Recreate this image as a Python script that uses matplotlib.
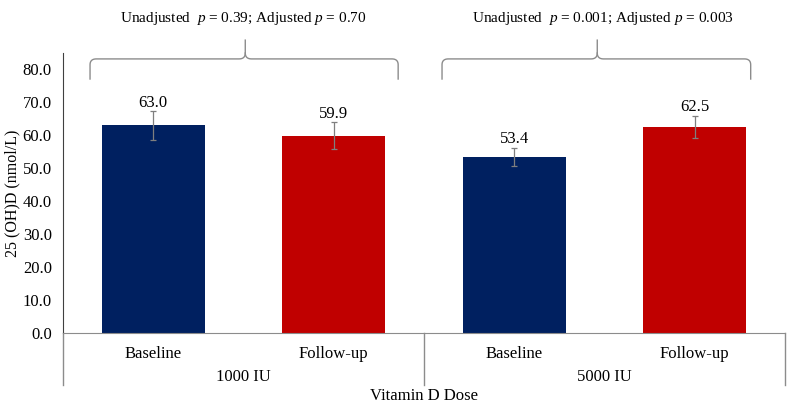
import numpy as np
import matplotlib.pyplot as plt
import matplotlib.transforms as mtransforms

plt.rcParams['font.family'] = ['Liberation Serif', 'DejaVu Serif']
plt.rcParams['mathtext.fontset'] = 'custom'
plt.rcParams['mathtext.rm'] = 'Liberation Serif'
plt.rcParams['mathtext.it'] = 'Liberation Serif:italic'

visits = ['Baseline', 'Follow-up', 'Baseline', 'Follow-up']
doses = ['1000 IU', '5000 IU']
means = [63.0, 59.9, 53.4, 62.5]
errs = [4.3, 4.0, 2.8, 3.4]
colors = ['#002060', '#C00000', '#002060', '#C00000']
pvals = ['Unadjusted  $p$ = 0.39; Adjusted $p$ = 0.70',
         'Unadjusted  $p$ = 0.001; Adjusted $p$ = 0.003']

fig = plt.figure(figsize=(7.91, 4.13), dpi=100)
ax = fig.add_axes([0.0796, 0.1937, 0.9128, 0.678])

x = np.arange(len(means))
ax.bar(x, means, width=0.57, color=colors, zorder=2)
ax.errorbar(x, means, yerr=errs, fmt='none', ecolor='#7f7f7f', elinewidth=0.9,
            capsize=2, capthick=0.9, zorder=3)
for xi, m, e in zip(x, means, errs):
    ax.text(xi, m + e + 0.2, f'{m:.1f}', ha='center', va='bottom', fontsize=12)

ax.set_xlim(-0.5, 3.5)
ax.set_ylim(0, 85)
ax.set_yticks(np.arange(0, 81, 10))
ax.set_yticklabels([f'{v:.1f}' for v in np.arange(0, 81, 10)], fontsize=12)
ax.tick_params(axis='y', length=0, pad=8)
ax.set_xticks(x)
ax.set_xticklabels(visits, fontsize=12)
ax.tick_params(axis='x', length=0, pad=9)
ax.set_ylabel('25 (OH)D (nmol/L)', fontsize=11.5, labelpad=2)

for s in ['top', 'right']:
    ax.spines[s].set_visible(False)
ax.spines['left'].set_color('#404040')
ax.spines['bottom'].set_color('#8c8c8c')

trans = mtransforms.blended_transform_factory(ax.transData, ax.transAxes)
for sx in [-0.5, 1.5, 3.5]:
    ax.plot([sx, sx], [0, -0.186], transform=trans, color='#8c8c8c', lw=1.0, clip_on=False)
for gi, d in enumerate(doses):
    ax.text(2 * gi + 0.5, -0.157, d, transform=trans, ha='center', va='center', fontsize=12)
ax.text(1.5, -0.225, 'Vitamin D Dose', transform=trans, ha='center', va='center', fontsize=12)


def brace(x0, x1, xm, y_end, y_h, y_tip, rx=0.035, ry=1.8):
    def quad(p0, p1, p2, n=12):
        t = np.linspace(0, 1, n)[:, None]
        return (1 - t) ** 2 * p0 + 2 * (1 - t) * t * p1 + t ** 2 * p2
    pts = [np.array([[x0, y_end]])]
    pts.append(quad(np.array([x0, y_h - ry]), np.array([x0, y_h]), np.array([x0 + rx, y_h])))
    pts.append(quad(np.array([xm - rx, y_h]), np.array([xm, y_h]), np.array([xm, y_h + ry])))
    pts.append(np.array([[xm, y_tip]]))
    pts.append(quad(np.array([xm, y_h + ry]), np.array([xm, y_h]), np.array([xm + rx, y_h])))
    pts.append(quad(np.array([x1 - rx, y_h]), np.array([x1, y_h]), np.array([x1, y_h - ry])))
    pts.append(np.array([[x1, y_end]]))
    first = np.vstack(pts[:4])
    second = np.vstack(pts[4:])
    for seg in (first, second):
        ax.plot(seg[:, 0], seg[:, 1], color='#8c8c8c', lw=1.0, clip_on=False)


brace(-0.35, 1.357, 0.51, 77.1, 83.2, 88.9)
brace(1.60, 3.31, 2.46, 77.1, 83.2, 88.9)
ax.text(0.5, 95.6, pvals[0], ha='center', va='center', fontsize=11)
ax.text(2.49, 95.6, pvals[1], ha='center', va='center', fontsize=11)

fig.savefig('out.png', dpi=100)
